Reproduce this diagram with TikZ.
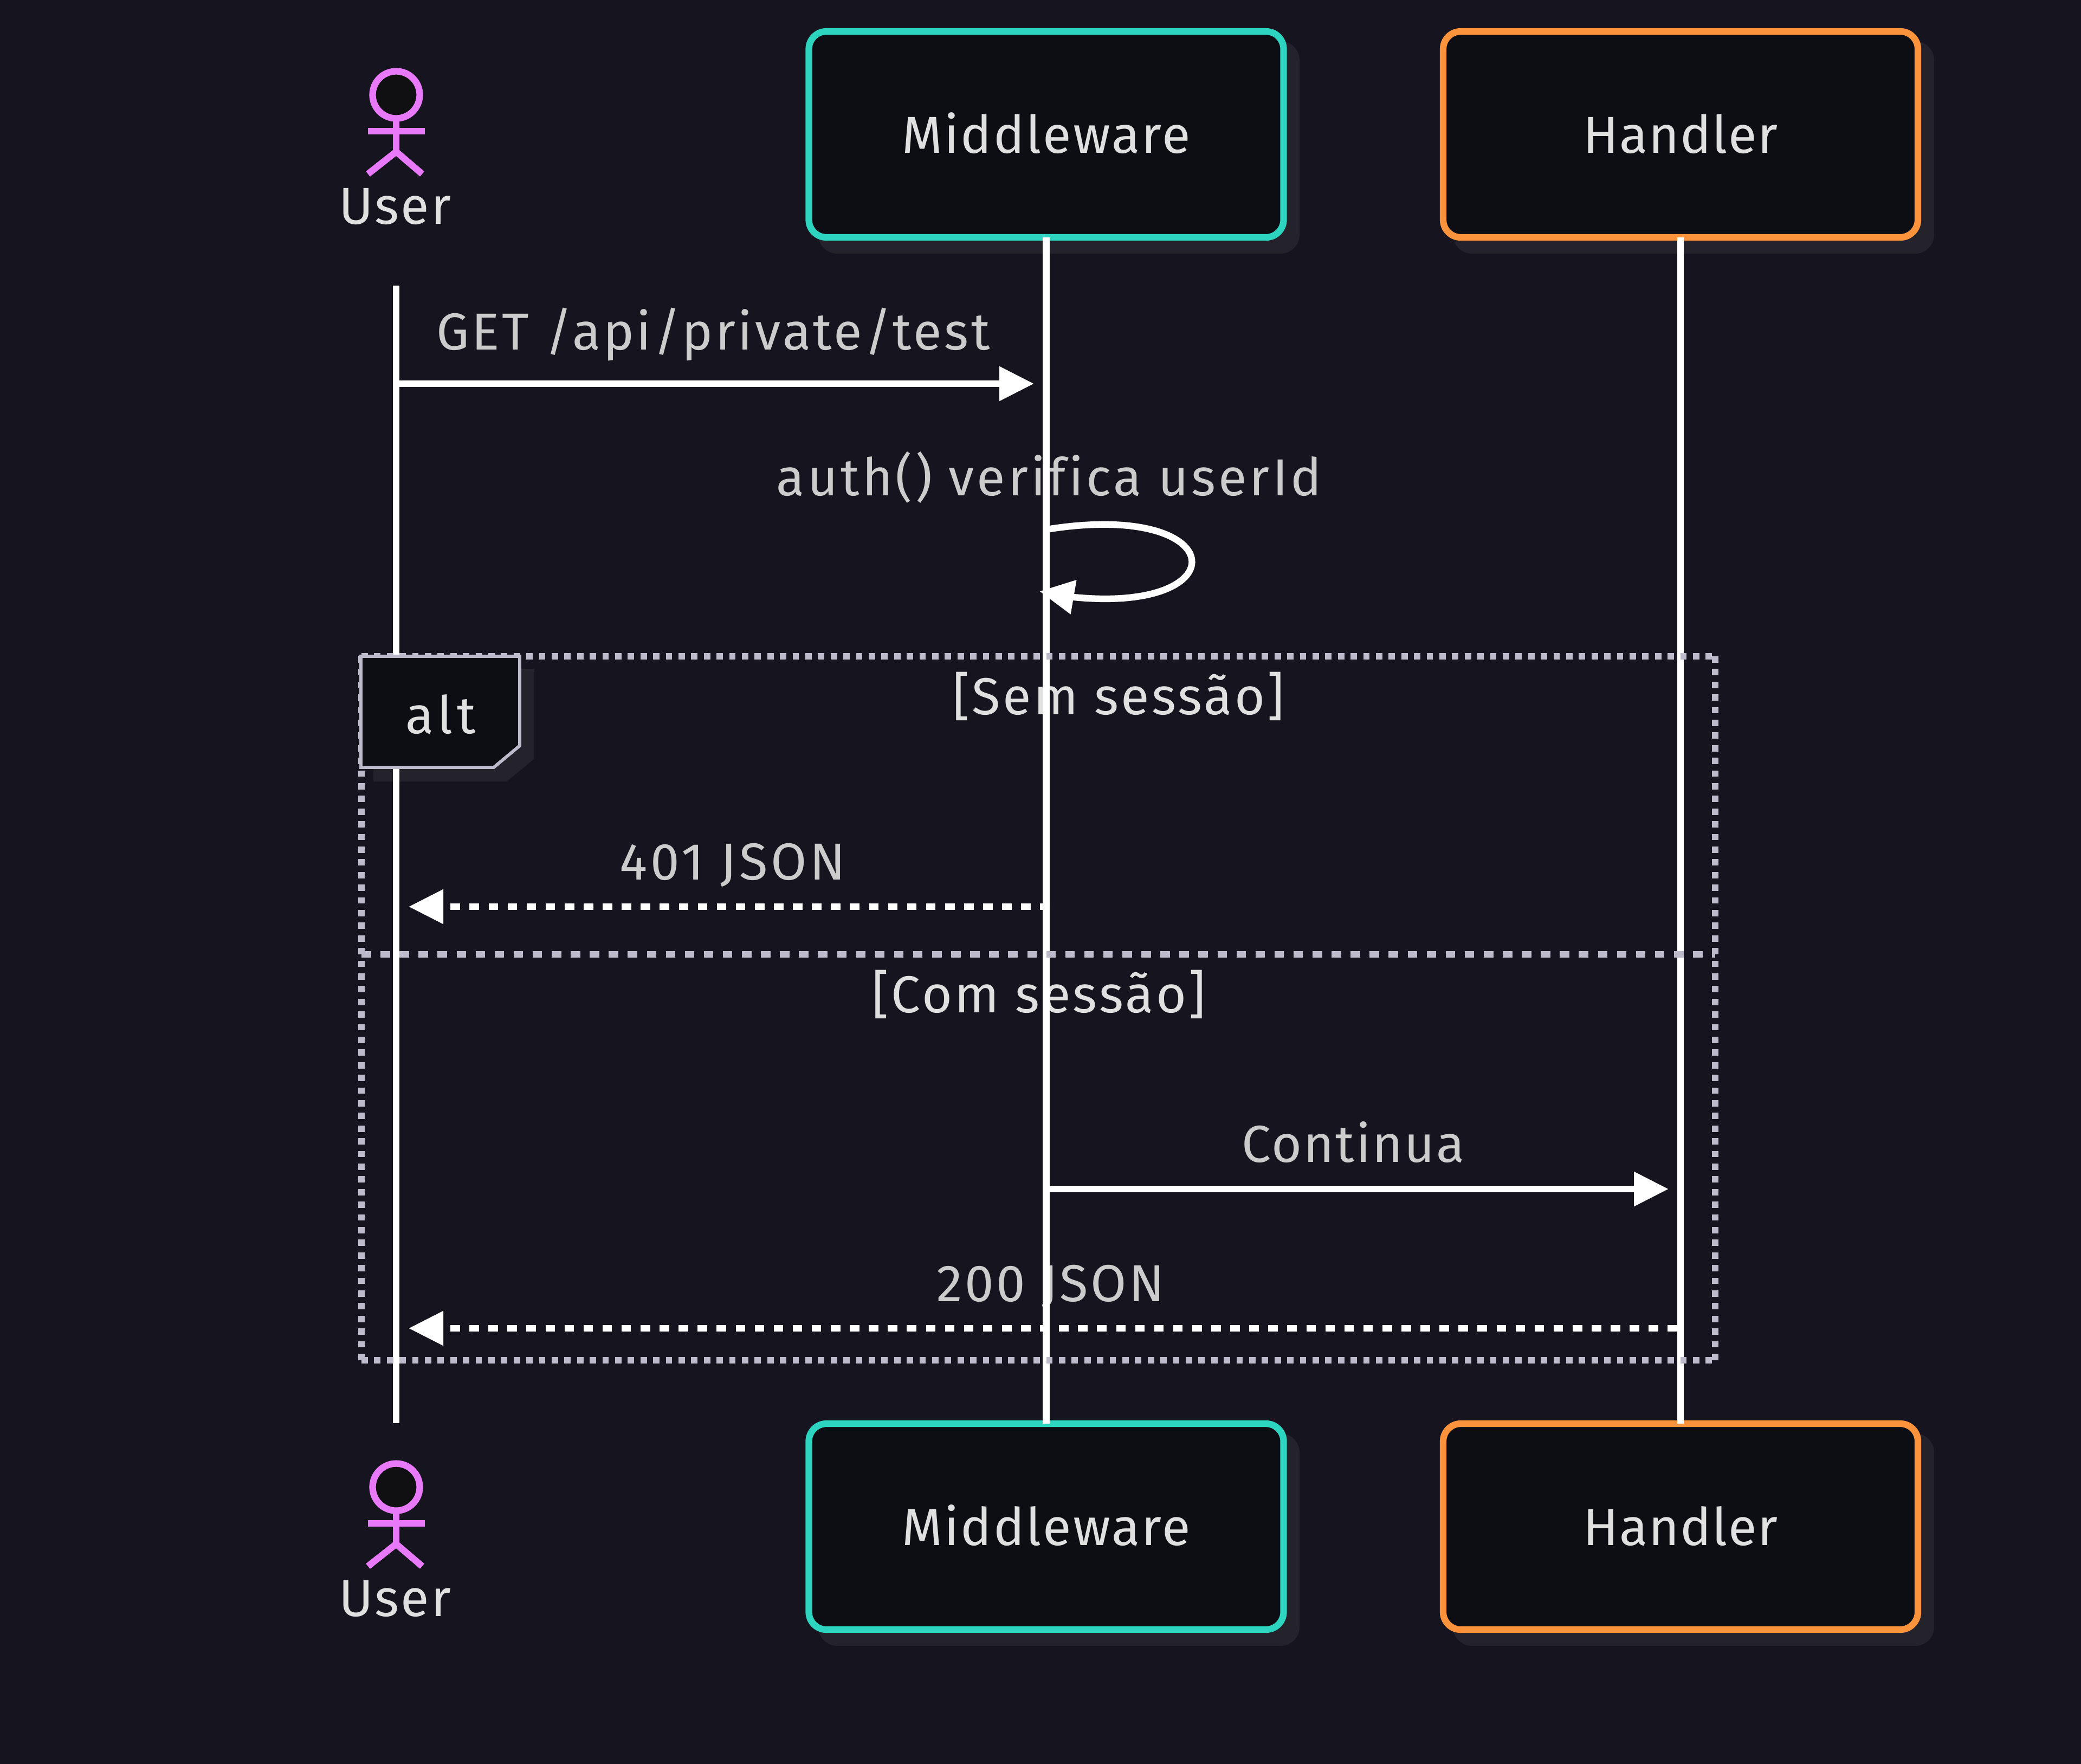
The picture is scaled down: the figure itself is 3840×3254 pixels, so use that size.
\documentclass[tikz,border=0pt]{standalone}
\usepackage{fontspec}
\setmainfont[Ligatures=CommonOff]{Fira Sans}
\usetikzlibrary{arrows.meta}
\definecolor{bgc}{HTML}{16151F}
\definecolor{boxfill}{HTML}{0D0D14}
\definecolor{shadowc}{HTML}{24232C}
\definecolor{headfill}{HTML}{101012}
\definecolor{tealc}{HTML}{2DD4BF}
\definecolor{orangec}{HTML}{FB923C}
\definecolor{pinkc}{HTML}{E879F9}
\definecolor{framec}{HTML}{BCBACB}
\definecolor{msgtext}{HTML}{CCCCCC}
\definecolor{lbltext}{HTML}{E0E0E0}
\newcommand{\lsp}[1]{\addfontfeature{LetterSpace=#1}}
\tikzset{
  lbl/.style={font=\fontsize{19.2}{23}\selectfont,text=#1,inner sep=0pt,outer sep=0pt,anchor=base},
  lbl/.default=msgtext,
  actorbox/.style={rectangle,rounded corners=6.5pt,draw=#1,fill=boxfill,line width=2.45pt,
    minimum width=175.2pt,minimum height=76pt,inner sep=0pt,outer sep=0pt,
    font=\fontsize{19.2}{23}\selectfont,text=lbltext,text height=15.76pt,text depth=2pt},
  boxshadow/.style={rectangle,rounded corners=7pt,fill=shadowc,minimum width=177.6pt,minimum height=78.4pt,inner sep=0pt,outer sep=0pt},
  lifeline/.style={draw=white,line width=2.45pt},
  msg/.style={draw=white,line width=2.45pt,-{Triangle[length=12.8pt,width=12.2pt,fill=white]}},
  msgdash/.style={msg,dash pattern=on 3.51pt off 3.51pt},
  framedot/.style={draw=framec,line width=2.45pt,dash pattern=on 2.34pt off 2.34pt},
  framediv/.style={draw=framec,line width=2.45pt,dash pattern=on 3.51pt off 3.51pt},
  stick/.style={draw=pinkc,line width=2.45pt},
}
\newcommand{\stickfig}[2]{%
  \node[circle,draw=pinkc,fill=#2,line width=2.45pt,minimum size=17.4pt,inner sep=0pt,outer sep=0pt] (#1head) at (731,175) {};
  \coordinate (#1hip) at (731,280);
  \coordinate (#1arml) at (679,242);
  \coordinate (#1armr) at (784,242);
  \coordinate (#1legl) at (679,321);
  \coordinate (#1legr) at (779,321);
  \draw[stick] (#1head.south) -- (#1hip);
  \draw[stick] (#1arml) -- (#1armr);
  \draw[stick] (#1legl) -- (#1hip) -- (#1legr);
}
\begin{document}
\begin{tikzpicture}[x=0.2pt,y=-0.2pt]
\useasboundingbox (0,0) rectangle (3840,3254);
\fill[bgc] (-20,-20) rectangle (3860,3274);
% shadows
\node[boxshadow] (s1) at (1954,272) {};
\node[boxshadow] (s2) at (3125,272) {};
\node[boxshadow] (s3) at (1954,2841) {};
\node[boxshadow] (s4) at (3125,2841) {};
\fill[shadowc] (689,1234) -- (986,1234) -- (986,1400) -- (935,1442) -- (689,1442) -- cycle;
% boxes
\node[actorbox=tealc] (mwtop) at (1930.5,248) {\lsp{3.4}Middleware};
\node[actorbox=orangec] (hdtop) at (3101,248) {\lsp{1.9}Handler};
\node[actorbox=tealc] (mwbot) at (1930.5,2817) {\lsp{3.4}Middleware};
\node[actorbox=orangec] (hdbot) at (3101,2817) {\lsp{1.9}Handler};
% actors
\stickfig{ua}{headfill}
\begin{scope}[yshift=-513.8pt]
\stickfig{ub}{headfill}
\end{scope}
\node[lbl=lbltext] (utop) at (729,413) {\lsp{3.5}User};
\node[lbl=lbltext] (ubot) at (729,2982) {\lsp{3.5}User};
% message text, under the lifelines
\node[lbl] (t1) at (1316,645) {\lsp{4.9}GET /api/private/test};
\node[lbl] (t2) at (1936,914) {\lsp{5.4}auth() verifica userId};
\node[lbl=lbltext] (t3) at (2064,1318) {\lsp{4.6}[Sem sessão]};
\node[lbl] (t4) at (1352,1623) {\lsp{5.9}401 JSON};
\node[lbl=lbltext] (t5) at (1917,1868) {\lsp{4.6}[Com sessão]};
\node[lbl] (t6) at (2497,2144) {\lsp{3}Continua};
\node[lbl] (t7) at (1939,2401) {\lsp{4.6}200 JSON};
% lifelines
\coordinate (ultop) at (731,527);
\coordinate (ulbot) at (731,2626);
\draw[lifeline] (ultop) -- (ulbot);
\draw[lifeline] (mwtop.south) -- (mwbot.north);
\draw[lifeline] (hdtop.south) -- (hdbot.north);
% frame
\coordinate (fa) at (667,1211);
\coordinate (fb) at (3165,1211);
\coordinate (fc) at (3165,2510);
\coordinate (fd) at (667,2510);
\coordinate (da) at (667,1761);
\coordinate (db) at (3165,1761);
\draw[framedot] (fa) -- (fb);
\draw[framedot] (fb) -- (fc);
\draw[framedot] (fd) -- (fc);
\draw[framedot] (fa) -- (fd);
\draw[framediv] (da) -- (db);
% alt label
\draw[draw=framec,line width=1.17pt,fill=boxfill] (666,1211) -- (959,1211) -- (959,1376) -- (911,1416) -- (666,1416) -- cycle;
\node[lbl=lbltext] (altl) at (813,1353) {\lsp{8}alt};
% messages
\coordinate (m1a) at (737,708);
\coordinate (m1b) at (1908,708);
\draw[msg] (m1a) -- (m1b);
\coordinate (l0) at (1931,977);
\coordinate (l1) at (2271,922);
\coordinate (l2) at (2288,1132);
\coordinate (l3) at (1982,1102);
\coordinate (l4) at (1918,1091);
\draw[msg] (l0) .. controls (l1) and (l2) .. (l3) -- (l4);
\coordinate (m2a) at (1937,1673);
\coordinate (m2b) at (754,1673);
\draw[msgdash] (m2a) -- (m2b);
\coordinate (m3a) at (1937,2194);
\coordinate (m3b) at (3079,2194);
\draw[msg] (m3a) -- (m3b);
\coordinate (m4a) at (3095,2451);
\coordinate (m4b) at (754,2451);
\draw[msgdash] (m4a) -- (m4b);
\end{tikzpicture}
\end{document}
